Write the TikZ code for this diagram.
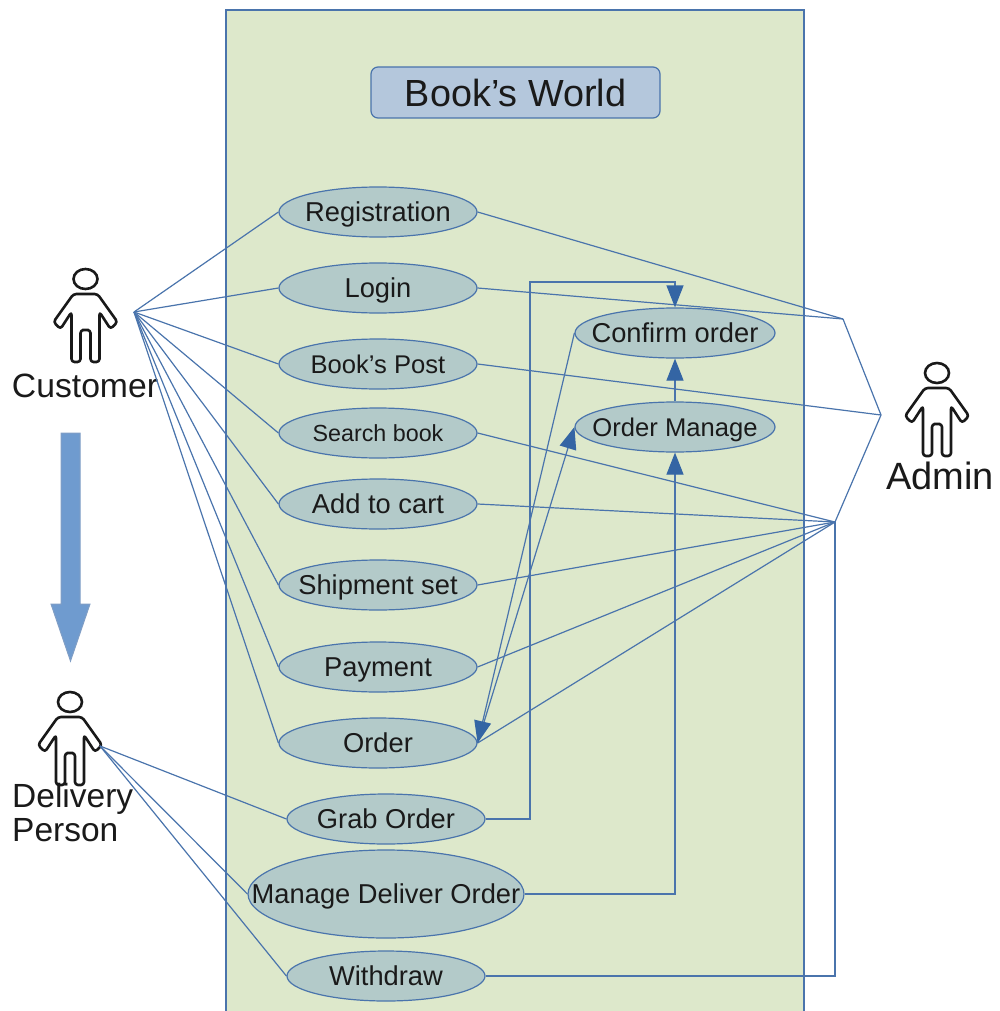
\documentclass[tikz,border=0pt]{standalone}
\usepackage{fontspec}
\setmainfont{Liberation Sans}
\usetikzlibrary{shapes.geometric,arrows.meta}
\definecolor{lineblue}{HTML}{4A74AC}
\definecolor{panelgreen}{HTML}{DDE8CB}
\definecolor{ucfill}{HTML}{B3CAC9}
\definecolor{titlefill}{HTML}{B4C7DC}
\definecolor{bigarrow}{HTML}{6F9BCF}
\definecolor{tipblue}{HTML}{3465A4}
\definecolor{txt}{HTML}{1A1A1A}
\newcommand{\fs}[1]{\fontsize{#1}{#1}\selectfont}
\newcommand{\ut}[1]{\makebox[0pt]{\raisebox{-0.36em}[0pt][0pt]{#1}}}
\tikzset{
  conn/.style={draw=lineblue,line width=1.2pt},
  arr/.style={conn,-{Triangle[length=22pt,width=17pt,color=tipblue]}},
  uc/.style={ellipse,draw=lineblue,line width=1.2pt,fill=ucfill,inner sep=0pt,
    minimum width=198pt,minimum height=50pt,text=txt,font=\fs{27.3}},
  actorlabel/.style={inner sep=0pt,text=txt,font=\fs{33.7}},
  personfig/.pic={
    \draw[black!90,line width=2.6pt] (0,0) ellipse (12pt and 10pt);
    \draw[black!90,line width=2.6pt,line join=round,rounded corners=3pt]
      (0,51) -- (-5,51) -- (-5,83) -- (-14,83) -- (-14,33) -- (-25,50) -- (-32,43)
      -- (-12,15) -- (12,15) -- (32,43) -- (25,50) -- (14,33) -- (14,83) -- (5,83) -- (5,51) -- cycle;
  }
}
\begin{document}
\begin{tikzpicture}[x=1pt,y=-1pt]
\useasboundingbox (0,0) rectangle (999,1011);
% panel (runs off the bottom edge of the picture)
\path[fill=panelgreen] (226,10) rectangle (804,1011);
\draw[lineblue,line width=1.4pt] (226,1011) -- (226,10) -- (804,10) -- (804,1011);
% title
\node (title) at (515.5,92.5) [draw=lineblue,line width=1.2pt,fill=titlefill,rounded corners=7pt,
  minimum width=289pt,minimum height=51pt,inner sep=0pt,text=txt,font=\fs{37.8}] {Book’s World};
% use cases
\node[uc] (reg) at (378,212) {\ut{Registration}};
\node[uc] (login) at (378,288) {\ut{Login}};
\node[uc,font=\fs{25.6}] (post) at (378,364) {\ut{Book’s Post}};
\node[uc,font=\fs{23.3}] (search) at (378,433) {\ut{Search book}};
\node[uc] (cart) at (378,504) {\ut{Add to cart}};
\node[uc] (ship) at (378,585) {\ut{Shipment set}};
\node[uc] (pay) at (378,667) {\ut{Payment}};
\node[uc] (order) at (378,743) {\ut{Order}};
\node[uc] (grab) at (386,819) {\ut{Grab Order}};
\node[uc,minimum width=276pt,minimum height=88pt] (manage) at (386,894) {\ut{Manage Deliver Order}};
\node[uc] (withdraw) at (386,976) {\ut{Withdraw}};
\node[uc,minimum width=200pt] (confirm) at (675,333) {\ut{Confirm order}};
\node[uc,minimum width=200pt,font=\fs{25.6}] (omanage) at (675,427) {\ut{Order Manage}};
% actors
\pic at (85.5,279) {personfig};
\pic at (70,702) {personfig};
\pic at (937,373) {personfig};
\node[actorlabel] (customer) at (85,386) {Customer};
\node[actorlabel,anchor=north west,align=left,font=\fs{33.5}] (delivery) at (12,783.5)
  {Delivery\\Person};
\node[actorlabel,font=\fs{38}] (admin) at (940,476) {Admin};
% hubs
\coordinate (custhub) at (134,312);
\coordinate (delhub) at (100,746);
\coordinate (adma) at (843,319);
\coordinate (admb) at (881,415);
\coordinate (admc) at (835,522);
\coordinate (grabbend) at (530,819);
\coordinate (grabtop) at (530,282);
\coordinate (grabend) at (675,282);
\coordinate (managebend) at (675,894);
\coordinate (withdrawbend) at (835,976);
% customer links
\foreach \u in {reg,login,post,search,cart,ship,pay,order}
  \draw[conn] (custhub) -- (\u.west);
% delivery links
\foreach \u in {grab,manage,withdraw}
  \draw[conn] (delhub) -- (\u.west);
% admin links
\draw[conn] (reg.east) -- (adma);
\draw[conn] (login.east) -- (adma);
\draw[conn] (post.east) -- (admb);
\foreach \u in {search,cart,ship,pay,order}
  \draw[conn] (\u.east) -- (admc);
\draw[conn] (adma) -- (admb) -- (admc);
\draw[conn] (withdraw.east) -- (withdrawbend) -- (admc);
% flows
\draw[arr] (grab.east) -- (grabbend) -- (grabtop) -- (grabend) -- (confirm.north);
\draw[arr] (manage.east) -- (managebend) -- (omanage.south);
\draw[arr] (omanage.north) -- (confirm.south);
\draw[arr] (order.east) -- (omanage.west);
\draw[arr] (confirm.west) -- (order.east);
% block arrow
\draw[draw=lineblue!70,fill=bigarrow,line width=1pt]
  (61,433) -- (80,433) -- (80,604) -- (90,604) -- (70.5,661) -- (51,604) -- (61,604) -- cycle;
\end{tikzpicture}
\end{document}
